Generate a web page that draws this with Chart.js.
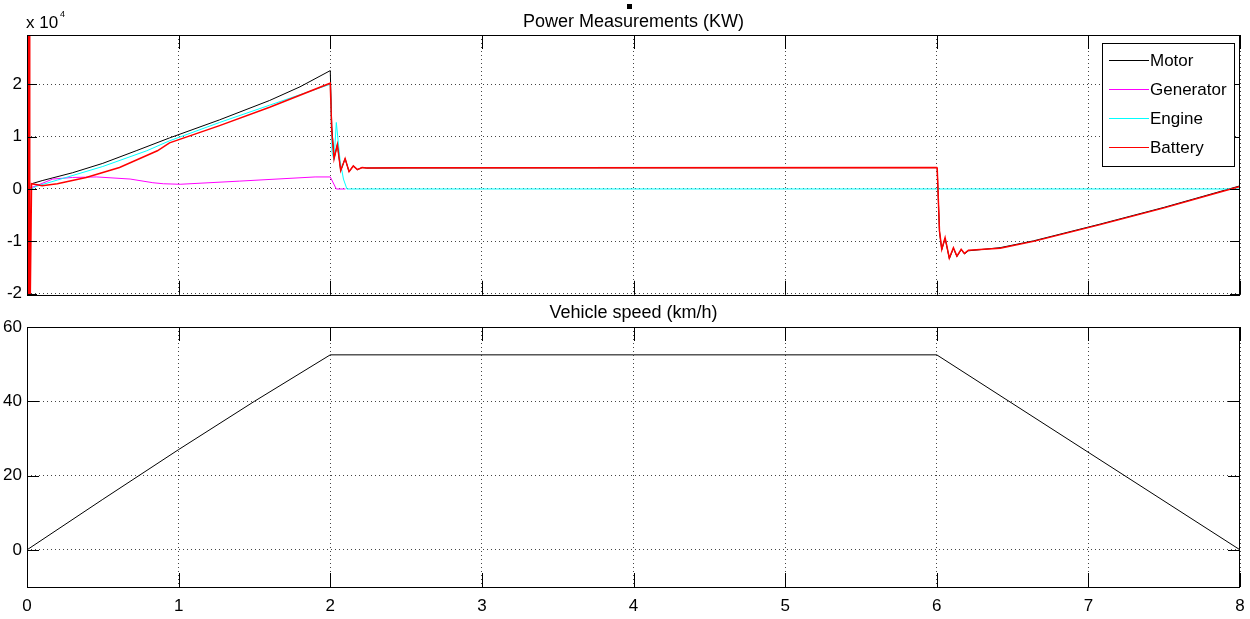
<!DOCTYPE html>
<html>
<head>
<meta charset="utf-8">
<title>Power Measurements</title>
<script src="https://cdn.jsdelivr.net/npm/chart.js@4.4.1/dist/chart.umd.min.js"></script>
<style>
  body { margin: 0; background: #fff; overflow: hidden; }
  #wrap { position: relative; width: 1250px; height: 619px; }
  canvas { position: absolute; left: 0; }
  #powerChart { top: 0; }
  #speedChart { top: 300px; }
</style>
</head>
<body>
<div id="wrap">
  <canvas id="powerChart" width="1250" height="310"></canvas>
  <canvas id="speedChart" width="1250" height="319"></canvas>
</div>
<script>
// Tick values / labels
const timeTicks = [0, 1, 2, 3, 4, 5, 6, 7, 8];
const powerTicks = [-20000, -10000, 0, 10000, 20000];
const speedTicks = [0, 20, 40, 60];

// Series labels and colours
const seriesLabels = ['Motor', 'Generator', 'Engine', 'Battery'];
const seriesColors = ['#000000', '#ff00ff', '#00ffff', '#ff0000'];

// Motor power
const motorT = [0.03, 0.1, 0.3, 0.5, 0.72, 0.94, 1.27, 1.6, 1.8, 2.0, 2.01, 2.025, 2.047, 2.069, 2.098, 2.124, 2.152, 2.179, 2.21, 2.24, 2.5, 3.5, 6.0, 6.003, 6.018, 6.033, 6.055, 6.083, 6.11, 6.133, 6.161, 6.183, 6.209, 6.418, 6.638, 7.078, 7.5, 8.0];
const motorP = [1000, 1600, 3100, 4900, 7300, 9750, 13200, 16900, 19500, 22600, 12000, 5800, 8500, 3500, 5800, 3300, 4400, 3700, 4100, 4000, 4020, 4040, 4080, 3950, -8100, -11600, -9400, -13300, -11300, -12900, -11600, -12400, -11800, -11200, -9900, -6700, -3500, 600];

// Generator power
const genT = [0, 0.06, 0.17, 0.3, 0.46, 0.68, 0.83, 0.9, 1.01, 1.4, 1.9, 2.0, 2.04, 2.1];
const genP = [0, 600, 1900, 2200, 2300, 1900, 1200, 1000, 900, 1500, 2300, 2300, 0, 0];

// Engine power
const engT = [0, 0.03, 0.06, 0.2, 0.5, 0.79, 0.94, 1.27, 1.6, 2.0, 2.012, 2.025, 2.04, 2.065, 2.087, 2.11, 8.0];
const engP = [0, 0, 500, 1700, 4300, 7300, 9200, 12700, 16000, 20000, 7000, 5500, 12700, 5400, 1900, 0, 0];

// Battery power
const batT = [0, 0.003, 0.006, 0.009, 0.012, 0.015, 0.018, 0.03, 0.1, 0.2, 0.39, 0.61, 0.86, 0.94, 1.27, 1.6, 2.0, 2.01, 2.025, 2.047, 2.069, 2.098, 2.124, 2.152, 2.179, 2.21, 2.24, 2.5, 3.5, 6.0, 6.003, 6.018, 6.033, 6.055, 6.083, 6.11, 6.133, 6.161, 6.183, 6.209, 6.418, 6.638, 7.078, 7.5, 8.0];
const batP = [-40000, 40000, -40000, 40000, -40000, 35000, -30000, 1000, 600, 1000, 2200, 4100, 7300, 8800, 12100, 15600, 20200, 11000, 5800, 8500, 3500, 5800, 3300, 4400, 3700, 4100, 4020, 4040, 4060, 4100, 4000, -8000, -11500, -9300, -13200, -11200, -12800, -11500, -12300, -11700, -11300, -10000, -6800, -3600, 500];

// Vehicle speed
const speedT = [0, 0.5, 1, 1.5, 2, 6, 8];
const speedV = [0, 13.6, 27, 40, 52.5, 52.5, 0];

const FONT = '"Liberation Sans", Arial, Helvetica, sans-serif';

function toPoints(ts, vs) {
    return ts.map((t, i) => ({ x: t, y: vs[i] }));
}

// Box, inward tick marks, titles and legend in the MATLAB look
const matlabAxes = {
    id: 'matlabAxes',
    afterDraw(chart, args, opts) {
        const { ctx, chartArea: a, scales } = chart;
        ctx.save();
        ctx.strokeStyle = '#000';
        ctx.lineWidth = 1;

        ctx.beginPath();
        scales.x.ticks.forEach(t => {
            const px = Math.round(scales.x.getPixelForValue(t.value)) + 0.5;
            ctx.moveTo(px, a.bottom); ctx.lineTo(px, a.bottom - opts.xTick);
            ctx.moveTo(px, a.top); ctx.lineTo(px, a.top + opts.xTick);
        });
        scales.y.ticks.forEach(t => {
            const py = Math.round(scales.y.getPixelForValue(t.value)) + 0.5;
            ctx.moveTo(a.left, py); ctx.lineTo(a.left + opts.yTick, py);
            ctx.moveTo(a.right, py); ctx.lineTo(a.right - opts.yTick, py);
        });
        ctx.stroke();
        ctx.strokeRect(Math.round(a.left) + 0.5, Math.round(a.top) + 0.5, Math.round(a.width) - 1, Math.round(a.height));

        ctx.fillStyle = '#000';
        ctx.font = '18px ' + FONT;
        ctx.textAlign = 'center';
        ctx.textBaseline = 'alphabetic';
        ctx.fillText(opts.title, (a.left + a.right) / 2, opts.titleY);

        if (opts.exponent) {
            ctx.font = '17px ' + FONT;
            ctx.textAlign = 'left';
            ctx.fillText('x 10', 26, 28);
            ctx.font = '9px ' + FONT;
            ctx.fillText('4', 60, 17);
            ctx.fillRect(627, 4, 5, 5);
        }

        if (opts.legend) {
            const lx = 1102, ly = 43, lw = 132, lh = 123;
            ctx.fillStyle = '#fff';
            ctx.fillRect(lx, ly, lw, lh);
            ctx.strokeStyle = '#000';
            ctx.strokeRect(lx + 0.5, ly + 0.5, lw, lh);
            ctx.font = '17px ' + FONT;
            ctx.textAlign = 'left';
            ctx.textBaseline = 'middle';
            seriesLabels.forEach((lab, i) => {
                const y = Math.round(60 + i * 29) + 0.5;
                ctx.strokeStyle = seriesColors[i];
                ctx.beginPath();
                ctx.moveTo(1109, y); ctx.lineTo(1149, y);
                ctx.stroke();
                ctx.fillStyle = '#000';
                ctx.fillText(lab, 1150, y + 1);
            });
        }
        ctx.restore();
    }
};

function baseScales(yMin, yMax, yTicks, yFmt, showX) {
    return {
        x: {
            type: 'linear', min: 0, max: 8,
            afterBuildTicks: s => { s.ticks = timeTicks.map(v => ({ value: v })); },
            afterFit: s => {
                s.height = showX ? 32 : 0;
                s.paddingLeft = 0;
                s.paddingRight = 0;
            },
            grid: { color: '#444', drawTicks: false, lineWidth: 1 },
            border: { display: false, dash: [1, 3] },
            ticks: { display: showX, color: '#000', padding: 9, maxRotation: 0, font: { family: FONT, size: 17 } }
        },
        y: {
            type: 'linear', min: yMin, max: yMax,
            afterBuildTicks: s => { s.ticks = yTicks.map(v => ({ value: v })); },
            afterFit: s => { s.width = 27; },
            grid: { color: '#444', drawTicks: false, lineWidth: 1 },
            border: { display: false, dash: [1, 3] },
            ticks: { color: '#000', padding: 5, font: { family: FONT, size: 17 }, callback: yFmt }
        }
    };
}

new Chart(document.getElementById('powerChart'), {
    type: 'line',
    data: {
        datasets: [
            { label: 'Motor', data: toPoints(motorT, motorP), borderColor: seriesColors[0], order: 3 },
            { label: 'Generator', data: toPoints(genT, genP), borderColor: seriesColors[1], order: 2 },
            { label: 'Engine', data: toPoints(engT, engP), borderColor: seriesColors[2], order: 1 },
            { label: 'Battery', data: toPoints(batT, batP), borderColor: seriesColors[3], borderWidth: 1.5, order: 0 }
        ]
    },
    options: {
        responsive: false,
        animation: false,
        elements: { point: { radius: 0 }, line: { borderWidth: 1, tension: 0 } },
        layout: { padding: { top: 35, bottom: 7, left: 0, right: 10 } },
        scales: baseScales(-20200, 29400, powerTicks, v => v / 10000, false),
        plugins: {
            legend: { display: false },
            tooltip: { enabled: false },
            matlabAxes: { title: 'Power Measurements (KW)', titleY: 27, xTick: 14, yTick: 10, legend: true, exponent: true }
        }
    },
    plugins: [matlabAxes]
});

new Chart(document.getElementById('speedChart'), {
    type: 'line',
    data: {
        datasets: [
            { label: 'Speed', data: toPoints(speedT, speedV), borderColor: '#000' }
        ]
    },
    options: {
        responsive: false,
        animation: false,
        elements: { point: { radius: 0 }, line: { borderWidth: 1, tension: 0 } },
        layout: { padding: { top: 27, bottom: 0, left: 0, right: 10 } },
        scales: baseScales(-10, 60, speedTicks, v => v, true),
        plugins: {
            legend: { display: false },
            tooltip: { enabled: false },
            matlabAxes: { title: 'Vehicle speed (km/h)', titleY: 18, xTick: 14, yTick: 12, legend: false, exponent: false }
        }
    },
    plugins: [matlabAxes]
});
</script>
</body>
</html>
